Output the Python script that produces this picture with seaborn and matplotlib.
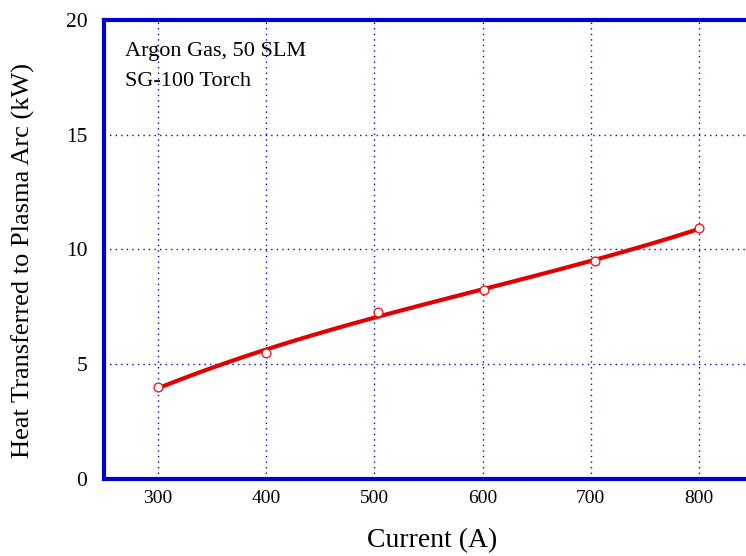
import matplotlib
matplotlib.use("Agg")
import matplotlib.pyplot as plt
import seaborn as sns
import pandas as pd

current = [300, 400, 503, 601, 704, 800]
heat_kw = [4.00, 5.48, 7.26, 8.22, 9.51, 10.92]
x_ticks = [300, 400, 500, 600, 700, 800]
y_ticks = [0, 5, 10, 15, 20]

sns.set_theme(style="white")
plt.rcParams['font.family'] = ['Liberation Serif', 'DejaVu Serif']
plt.rcParams['text.color'] = 'black'
plt.rcParams['axes.labelcolor'] = 'black'

df = pd.DataFrame({"Current": current, "Heat": heat_kw})

fig = plt.figure(figsize=(7.46, 5.56), dpi=100)
ax = fig.add_axes([104/746, 1-479/556, 649/746, 459/556])

sns.regplot(data=df, x="Current", y="Heat", order=3, ci=None, truncate=True,
            scatter=False, ax=ax, line_kws=dict(color="#e00000", lw=3, zorder=3))
sns.scatterplot(data=df, x="Current", y="Heat", ax=ax, marker="o", s=40,
                facecolor="white", edgecolor="#e02020", linewidth=1.0, zorder=4)

ax.set_xlim(250, 850)
ax.set_ylim(0, 20)
ax.set_xticks(x_ticks)
ax.set_yticks(y_ticks)
ax.grid(True, color="#0000dd", linestyle=(0, (1, 3)), linewidth=1.0)
for side in ["left", "top", "bottom"]:
    ax.spines[side].set_color("#0000cc")
    ax.spines[side].set_linewidth(3)
ax.spines["right"].set_visible(False)
ax.tick_params(axis="x", length=0, labelsize=14, pad=8, colors="black")
ax.tick_params(axis="y", length=0, labelsize=15.5, pad=12, colors="black")
ax.set_xlabel("Current (A)", fontsize=20)
ax.xaxis.set_label_coords(0.505, -0.108)
ax.set_ylabel("Heat Transferred to Plasma Arc (kW)", fontsize=19)
ax.yaxis.set_label_coords(-0.107, 0.477)
ax.text(0.033, 0.952, "Argon Gas, 50 SLM\nSG-100 Torch", transform=ax.transAxes,
        ha="left", va="top", fontsize=16, linespacing=1.75)

fig.savefig("out.png", dpi=100)
